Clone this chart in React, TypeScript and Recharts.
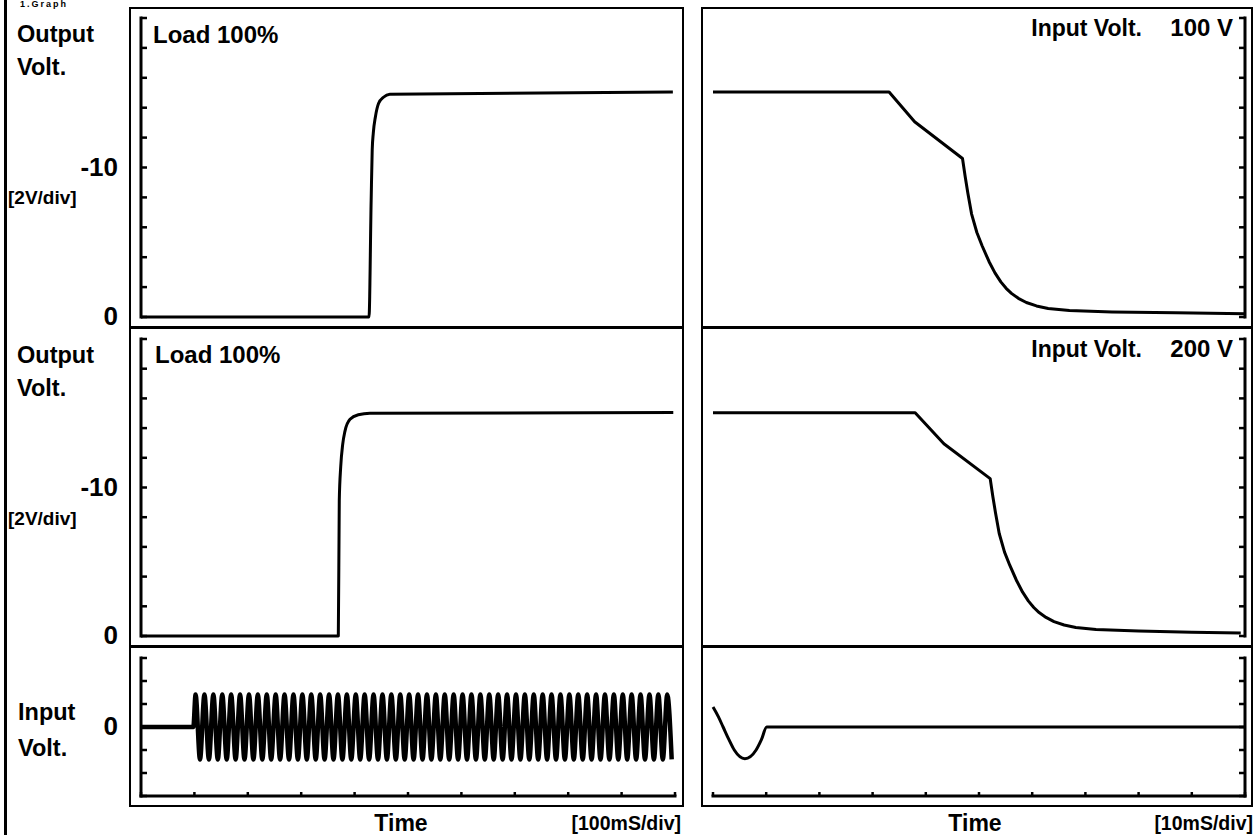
import React from 'react';
import { LineChart, Line, XAxis, YAxis } from 'recharts';

const FONT = '"Liberation Sans", Arial, Helvetica, sans-serif';

// ---------- axis ticks ----------
const slowTimeTicks = [0, 100, 200, 300, 400, 500, 600, 700, 800, 900, 1000]; // ms, 100mS/div
const fastTimeTicks = [0, 10, 20, 30, 40, 50, 60, 70, 80, 90, 100]; // ms, 10mS/div
const outputVoltTicks = [-20, -18, -16, -14, -12, -10, -8, -6, -4, -2, 0]; // 2V/div
const outputVoltLabels = [-10, 0];
const inputVoltTicks = [-300, -200, -100, 0, 100, 200, 300];
const inputVoltLabels = [0];

// ---------- start-up (left column), Load 100% ----------
const startup100Time = [0, 427, 431, 433, 435, 439, 445, 454, 466, 996];
const startup100Volt = [0, 0, -7.8, -11.2, -12.3, -13.4, -14.3, -14.7, -14.9, -15.05];
const startup200Time = [0, 369.5, 371.3, 374, 377.7, 382, 391.4, 406.9, 428.8, 996.8];
const startup200Volt = [0, 0, -9.1, -11.4, -12.9, -13.8, -14.6, -14.9, -15.0, -15.05];

// ---------- shut-down (right column) ----------
const shutdown100Time = [0, 33.1, 37.9, 46.9, 47.4, 47.9, 48.6, 49.6, 50.6, 51.9, 53.0, 54.1, 55.1, 56.1, 57.4, 58.9, 60.8, 63, 67, 75, 87, 100];
const shutdown100Volt = [-15.05, -15.05, -13.06, -10.6, -9.4, -8.3, -6.9, -5.65, -4.75, -3.7, -2.95, -2.35, -1.92, -1.58, -1.25, -0.97, -0.74, -0.57, -0.44, -0.34, -0.28, -0.22];
const shutdown200Time = [0, 38.0, 43.4, 52.1, 52.6, 53.1, 53.8, 54.8, 55.8, 57.1, 58.2, 59.3, 60.3, 61.3, 62.6, 64.1, 66, 68.2, 72, 80, 90, 99.2];
const shutdown200Volt = [-15.03, -15.03, -12.95, -10.6, -9.4, -8.3, -6.9, -5.65, -4.75, -3.7, -2.95, -2.35, -1.92, -1.58, -1.25, -0.97, -0.74, -0.57, -0.44, -0.33, -0.26, -0.2];

// ---------- input voltage: AC switched on (left) ----------
const acOnTime = [
  0, 98,
  102.2, 110.5, 118.8, 127.2, 135.5, 143.8, 152.2, 160.5, 168.8, 177.2, 185.5, 193.8,
  202.2, 210.5, 218.8, 227.2, 235.5, 243.8, 252.2, 260.5, 268.8, 277.2, 285.5, 293.8,
  302.2, 310.5, 318.8, 327.2, 335.5, 343.8, 352.2, 360.5, 368.8, 377.2, 385.5, 393.8,
  402.2, 410.5, 418.8, 427.2, 435.5, 443.8, 452.2, 460.5, 468.8, 477.2, 485.5, 493.8,
  502.2, 510.5, 518.8, 527.2, 535.5, 543.8, 552.2, 560.5, 568.8, 577.2, 585.5, 593.8,
  602.2, 610.5, 618.8, 627.2, 635.5, 643.8, 652.2, 660.5, 668.8, 677.2, 685.5, 693.8,
  702.2, 710.5, 718.8, 727.2, 735.5, 743.8, 752.2, 760.5, 768.8, 777.2, 785.5, 793.8,
  802.2, 810.5, 818.8, 827.2, 835.5, 843.8, 852.2, 860.5, 868.8, 877.2, 885.5, 893.8,
  902.2, 910.5, 918.8, 927.2, 935.5, 943.8, 952.2, 960.5, 968.8, 977.2, 985.5, 993.8,
];
const acOnVolt = [
  0, 0,
  141, -141, 141, -141, 141, -141, 141, -141, 141, -141, 141, -141,
  141, -141, 141, -141, 141, -141, 141, -141, 141, -141, 141, -141,
  141, -141, 141, -141, 141, -141, 141, -141, 141, -141, 141, -141,
  141, -141, 141, -141, 141, -141, 141, -141, 141, -141, 141, -141,
  141, -141, 141, -141, 141, -141, 141, -141, 141, -141, 141, -141,
  141, -141, 141, -141, 141, -141, 141, -141, 141, -141, 141, -141,
  141, -141, 141, -141, 141, -141, 141, -141, 141, -141, 141, -141,
  141, -141, 141, -141, 141, -141, 141, -141, 141, -141, 141, -141,
  141, -141, 141, -141, 141, -141, 141, -141, 141, -141, 141, -141,
];

// ---------- input voltage: AC switched off (right) ----------
const acOffTime = [0, 1.0, 1.9, 3.0, 4.0, 6.0, 8.1, 9.1, 10.1, 100];
const acOffVolt = [87, 45, 0, -55, -100, -138, -100, -55, 0, 0];

// ---------- helpers ----------
const AXIS_LINE = { stroke: '#000', strokeWidth: 3, strokeLinecap: 'square' as const };

const makeYTick = (side: 'left' | 'right', labels: number[]) => (props: any) => {
  const { x, y, payload } = props;
  const dir = side === 'left' ? 1 : -1;
  const v = payload?.value;
  return (
    <g>
      <line x1={x} y1={y} x2={x + dir * 6} y2={y} stroke="#000" strokeWidth={2.5} />
      {labels.includes(v) ? (
        <text x={x - 23} y={y + 8} textAnchor="end" fontFamily={FONT} fontWeight="bold" fontSize={26} fill="#000">
          {String(v)}
        </text>
      ) : null}
    </g>
  );
};

const xStubTick = (props: any) => {
  const { x, y } = props;
  return <line x1={x} y1={y} x2={x} y2={y - 4} stroke="#000" strokeWidth={2.5} />;
};

type PanelProps = {
  left: number;
  top: number;
  width: number;
  height: number;
  margin: { top: number; right: number; bottom: number; left: number };
  times: number[];
  volts: number[];
  xMax: number;
  xTicks: number[];
  showXAxis: boolean;
  yDomain: [number, number];
  yTicks: number[];
  yLabels: number[];
  reversed: boolean;
  side: 'left' | 'right';
  curve: 'monotone' | 'linear';
  lineWidth: number;
};

function Panel(p: PanelProps) {
  const data = p.times.map((t, i) => ({ t, v: p.volts[i] }));
  return (
    <div style={{ position: 'absolute', left: p.left, top: p.top, width: p.width, height: p.height }}>
      <LineChart width={p.width} height={p.height} data={data} margin={p.margin}>
        <XAxis
          type="number"
          dataKey="t"
          domain={[0, p.xMax]}
          ticks={p.xTicks}
          interval={0}
          height={1}
          tickSize={0}
          tickMargin={0}
          tickLine={false}
          axisLine={p.showXAxis ? AXIS_LINE : false}
          tick={p.showXAxis ? xStubTick : false}
        />
        <YAxis
          type="number"
          orientation={p.side}
          domain={p.yDomain}
          reversed={p.reversed}
          ticks={p.yTicks}
          interval={0}
          width={1}
          tickSize={0}
          tickMargin={0}
          tickLine={false}
          axisLine={AXIS_LINE}
          tick={makeYTick(p.side, p.yLabels)}
        />
        <Line
          type={p.curve}
          dataKey="v"
          stroke="#000"
          strokeWidth={p.lineWidth}
          strokeLinejoin="round"
          dot={false}
          activeDot={false}
          isAnimationActive={false}
        />
      </LineChart>
    </div>
  );
}

// plot areas: left x 141..675, right x 713..1245; rows y 18..317, 339..636, 658..796
const M_LEFT_TOP = { top: 10, right: 9, bottom: 20, left: 140 };
const M_LEFT_MID = { top: 10, right: 9, bottom: 22, left: 140 };
const M_LEFT_BOT = { top: 10, right: 9, bottom: 9, left: 140 };
const M_RIGHT_TOP = { top: 10, right: 7, bottom: 20, left: 12 };
const M_RIGHT_MID = { top: 10, right: 7, bottom: 22, left: 12 };
const M_RIGHT_BOT = { top: 10, right: 7, bottom: 9, left: 12 };

const T = (props: { x: number; y: number; size: number; anchor?: 'start' | 'middle' | 'end'; spacing?: number; children: React.ReactNode }) => (
  <text
    x={props.x}
    y={props.y}
    fontSize={props.size}
    fontFamily={FONT}
    fontWeight="bold"
    textAnchor={props.anchor || 'start'}
    letterSpacing={props.spacing || 0}
    fill="#000"
  >
    {props.children}
  </text>
);

export default function App() {
  return (
    <div
      style={{
        position: 'absolute',
        left: 0,
        top: 0,
        width: 1255,
        height: 835,
        background: '#fff',
        overflow: 'hidden',
      }}
    >
      {/* Left column: start-up */}
      <Panel left={0} top={8} width={684} height={330} margin={M_LEFT_TOP}
        times={startup100Time} volts={startup100Volt} xMax={1000} xTicks={slowTimeTicks} showXAxis={false}
        yDomain={[-20, 0]} yTicks={outputVoltTicks} yLabels={outputVoltLabels} reversed side="left" curve="monotone" lineWidth={3} />
      <Panel left={0} top={329} width={684} height={330} margin={M_LEFT_MID}
        times={startup200Time} volts={startup200Volt} xMax={1000} xTicks={slowTimeTicks} showXAxis={false}
        yDomain={[-20, 0]} yTicks={outputVoltTicks} yLabels={outputVoltLabels} reversed side="left" curve="monotone" lineWidth={3} />
      <Panel left={0} top={648} width={684} height={158} margin={M_LEFT_BOT}
        times={acOnTime} volts={acOnVolt} xMax={1000} xTicks={slowTimeTicks} showXAxis
        yDomain={[-300, 300]} yTicks={inputVoltTicks} yLabels={inputVoltLabels} reversed={false} side="left" curve="monotone" lineWidth={4.5} />

      {/* Right column: shut-down */}
      <Panel left={701} top={8} width={552} height={330} margin={M_RIGHT_TOP}
        times={shutdown100Time} volts={shutdown100Volt} xMax={100} xTicks={fastTimeTicks} showXAxis={false}
        yDomain={[-20, 0]} yTicks={outputVoltTicks} yLabels={[]} reversed side="right" curve="linear" lineWidth={3} />
      <Panel left={701} top={329} width={552} height={330} margin={M_RIGHT_MID}
        times={shutdown200Time} volts={shutdown200Volt} xMax={100} xTicks={fastTimeTicks} showXAxis={false}
        yDomain={[-20, 0]} yTicks={outputVoltTicks} yLabels={[]} reversed side="right" curve="linear" lineWidth={3} />
      <Panel left={701} top={648} width={552} height={158} margin={M_RIGHT_BOT}
        times={acOffTime} volts={acOffVolt} xMax={100} xTicks={fastTimeTicks} showXAxis
        yDomain={[-300, 300]} yTicks={inputVoltTicks} yLabels={[]} reversed={false} side="right" curve="monotone" lineWidth={3} />

      {/* frames */}
      <div style={{ position: 'absolute', left: 4, top: 0, width: 3, height: 835, background: '#000' }} />
      <div style={{ position: 'absolute', left: 129, top: 7, width: 555, height: 800, border: '2px solid #000', boxSizing: 'border-box' }} />
      <div style={{ position: 'absolute', left: 701, top: 7, width: 552, height: 800, border: '2px solid #000', boxSizing: 'border-box' }} />
      <div style={{ position: 'absolute', left: 129, top: 326, width: 555, height: 3, background: '#000' }} />
      <div style={{ position: 'absolute', left: 129, top: 645, width: 555, height: 3, background: '#000' }} />
      <div style={{ position: 'absolute', left: 701, top: 326, width: 552, height: 3, background: '#000' }} />
      <div style={{ position: 'absolute', left: 701, top: 645, width: 552, height: 3, background: '#000' }} />

      {/* text */}
      <svg width={1255} height={835} style={{ position: 'absolute', left: 0, top: 0, pointerEvents: 'none' }}>
        <T x={20} y={7} size={9} spacing={2}>1.Graph</T>

        <T x={17} y={42} size={23.5}>Output</T>
        <T x={17} y={75} size={23.5}>Volt.</T>
        <T x={8} y={204} size={19}>[2V/div]</T>
        <T x={153} y={43} size={24}>Load 100%</T>

        <T x={17} y={363} size={23.5}>Output</T>
        <T x={17} y={396} size={23.5}>Volt.</T>
        <T x={8} y={525} size={19}>[2V/div]</T>
        <T x={155} y={363} size={24}>Load 100%</T>

        <T x={18} y={720} size={23.5}>Input</T>
        <T x={18} y={756} size={23.5}>Volt.</T>

        <T x={1142} y={36} size={23} anchor="end">Input Volt.</T>
        <T x={1233} y={36} size={24} anchor="end">100 V</T>
        <T x={1142} y={357} size={23} anchor="end">Input Volt.</T>
        <T x={1233} y={357} size={24} anchor="end">200 V</T>

        <T x={401} y={831} size={23} anchor="middle">Time</T>
        <T x={681} y={830} size={19.5} anchor="end">[100mS/div]</T>
        <T x={975} y={831} size={23} anchor="middle">Time</T>
        <T x={1253} y={830} size={19.5} anchor="end">[10mS/div]</T>
      </svg>
    </div>
  );
}
